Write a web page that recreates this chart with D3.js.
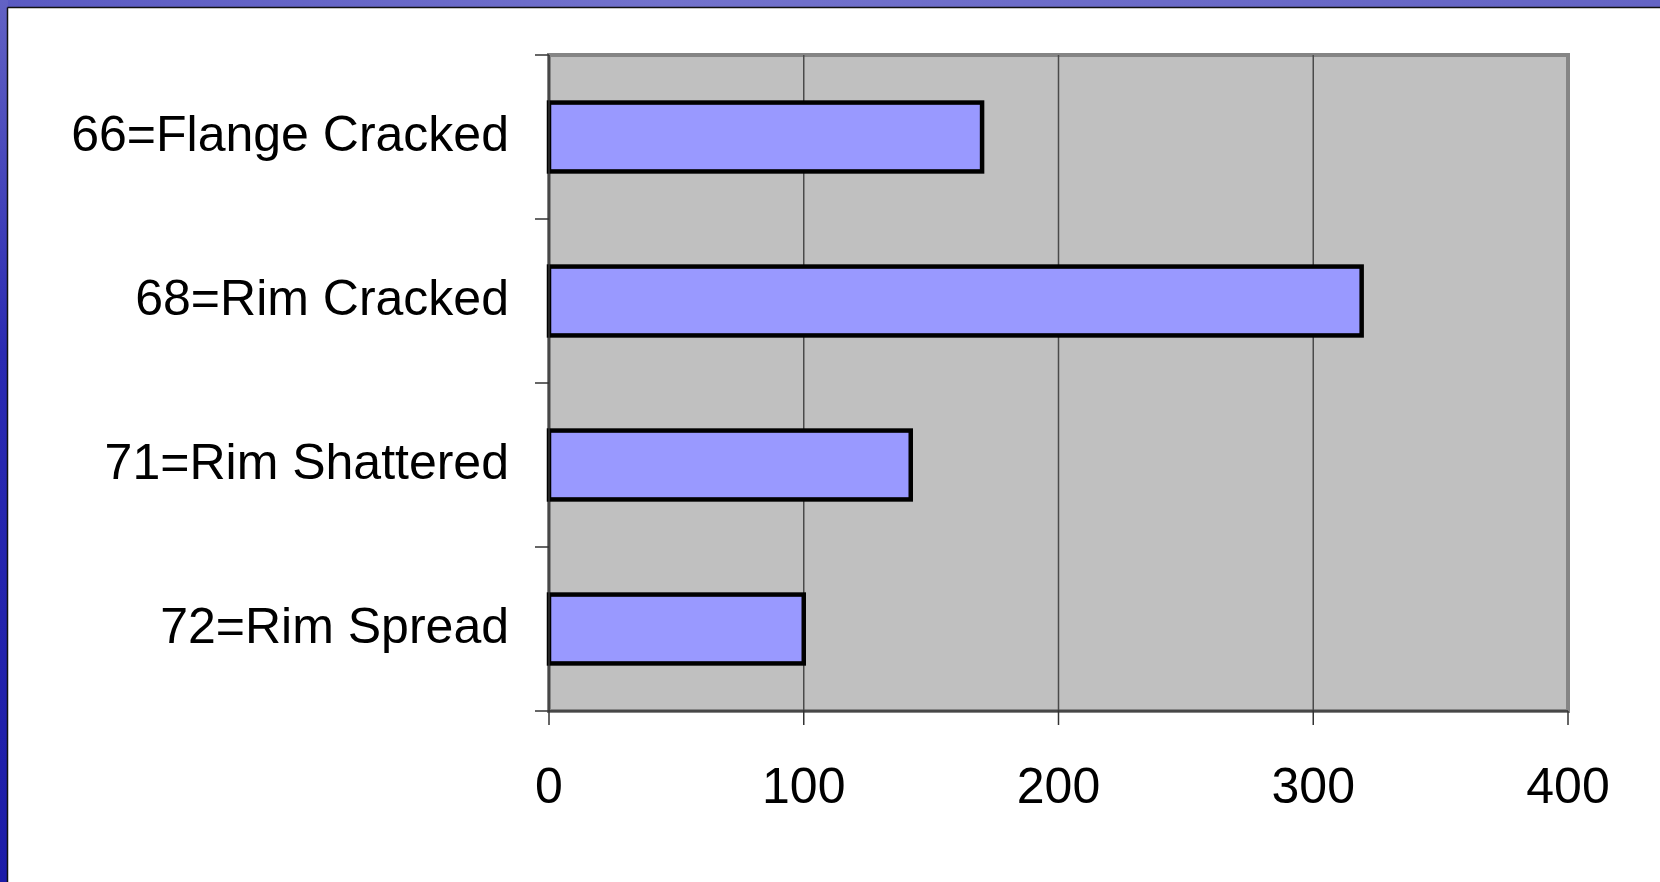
<!DOCTYPE html>
<html>
<head>
<meta charset="utf-8">
<script src="https://cdn.jsdelivr.net/npm/d3@7"></script>
<style>
  html, body { margin: 0; padding: 0; background: #fff; }
  svg { display: block; }
  text { font-family: "Liberation Sans", Arial, sans-serif; fill: #000; }
</style>
</head>
<body>
<script>
// Defect counts by failure code
const categories = ["66=Flange Cracked", "68=Rim Cracked", "71=Rim Shattered", "72=Rim Spread"];
const counts = [170, 319, 142, 100];
const xTicks = [0, 100, 200, 300, 400];

const W = 1660, H = 882;
const plot = { left: 549, right: 1568, top: 55, bottom: 711 };

const svg = d3.select("body").append("svg").attr("width", W).attr("height", H);
const defs = svg.append("defs");

const gTop = defs.append("linearGradient").attr("id", "bandTop").attr("x1", 0).attr("x2", 1).attr("y1", 0).attr("y2", 0);
gTop.append("stop").attr("offset", "0%").attr("stop-color", "#5a5ac2");
gTop.append("stop").attr("offset", "40%").attr("stop-color", "#7272cc");
gTop.append("stop").attr("offset", "100%").attr("stop-color", "#6464c4");

const gLeft = defs.append("linearGradient").attr("id", "bandLeft").attr("x1", 0).attr("x2", 0).attr("y1", 0).attr("y2", 1);
gLeft.append("stop").attr("offset", "0%").attr("stop-color", "#6262c4");
gLeft.append("stop").attr("offset", "40%").attr("stop-color", "#2a2ab2");
gLeft.append("stop").attr("offset", "100%").attr("stop-color", "#1c1ca8");

// Slide frame: coloured bands on the top and left edges
svg.append("rect").attr("x", 0).attr("y", 0).attr("width", W).attr("height", 8).attr("fill", "url(#bandTop)");
svg.append("rect").attr("x", 0).attr("y", 0).attr("width", 8).attr("height", H).attr("fill", "url(#bandLeft)");
svg.append("line").attr("x1", 7.5).attr("x2", W).attr("y1", 7.5).attr("y2", 7.5).attr("stroke", "#111").attr("stroke-width", 1.5);
svg.append("line").attr("x1", 7.5).attr("x2", 7.5).attr("y1", 7.5).attr("y2", H).attr("stroke", "#111").attr("stroke-width", 1.5);

const x = d3.scaleLinear().domain([0, 400]).range([plot.left, plot.right]);
const y = d3.scaleBand().domain(categories).range([plot.top, plot.bottom])
  .paddingInner(0.58).paddingOuter(0.29);

// Plot area background and border
svg.append("rect")
  .attr("x", plot.left).attr("y", plot.top)
  .attr("width", plot.right - plot.left).attr("height", plot.bottom - plot.top)
  .attr("fill", "#c0c0c0").attr("stroke", "#858585").attr("stroke-width", 4);

// Vertical gridlines
svg.append("g").selectAll("line").data(xTicks.slice(1, -1)).join("line")
  .attr("x1", d => x(d)).attr("x2", d => x(d))
  .attr("y1", plot.top).attr("y2", plot.bottom)
  .attr("stroke", "#4a4a4a").attr("stroke-width", 1.5);

// Bars
svg.append("g").selectAll("rect").data(counts).join("rect")
  .attr("x", x(0))
  .attr("y", (d, i) => y(categories[i]))
  .attr("width", d => x(d) - x(0))
  .attr("height", y.bandwidth())
  .attr("fill", "#9999ff")
  .attr("stroke", "#000").attr("stroke-width", 4.5);

// Category axis
const yAxis = svg.append("g").attr("transform", `translate(${plot.left},0)`);
yAxis.append("line").attr("x1", 0).attr("x2", 0).attr("y1", plot.top).attr("y2", plot.bottom)
  .attr("stroke", "#333").attr("stroke-width", 1.5);
const bounds = categories.map(c => y(c) - y.step() * y.paddingInner() / 2);
bounds[0] = plot.top;
bounds.push(plot.bottom);
yAxis.selectAll("line.tick").data(bounds).join("line").attr("class", "tick")
  .attr("x1", -14).attr("x2", 0).attr("y1", d => d).attr("y2", d => d)
  .attr("stroke", "#333").attr("stroke-width", 1.5);
yAxis.selectAll("text").data(categories).join("text")
  .attr("x", 509 - plot.left)
  .attr("y", d => y(d) + y.bandwidth() / 2 + 14)
  .attr("text-anchor", "end")
  .attr("font-size", 50)
  .text(d => d);

// Value axis
const xAxis = svg.append("g").attr("transform", `translate(0,${plot.bottom})`);
xAxis.append("line").attr("x1", plot.left).attr("x2", plot.right).attr("y1", 0).attr("y2", 0)
  .attr("stroke", "#333").attr("stroke-width", 1.5);
xAxis.selectAll("line.tick").data(xTicks).join("line").attr("class", "tick")
  .attr("x1", d => x(d)).attr("x2", d => x(d)).attr("y1", 0).attr("y2", 14)
  .attr("stroke", "#333").attr("stroke-width", 1.5);
xAxis.selectAll("text").data(xTicks).join("text")
  .attr("x", d => x(d))
  .attr("y", 92)
  .attr("text-anchor", "middle")
  .attr("font-size", 50)
  .text(d => d);
</script>
</body>
</html>
